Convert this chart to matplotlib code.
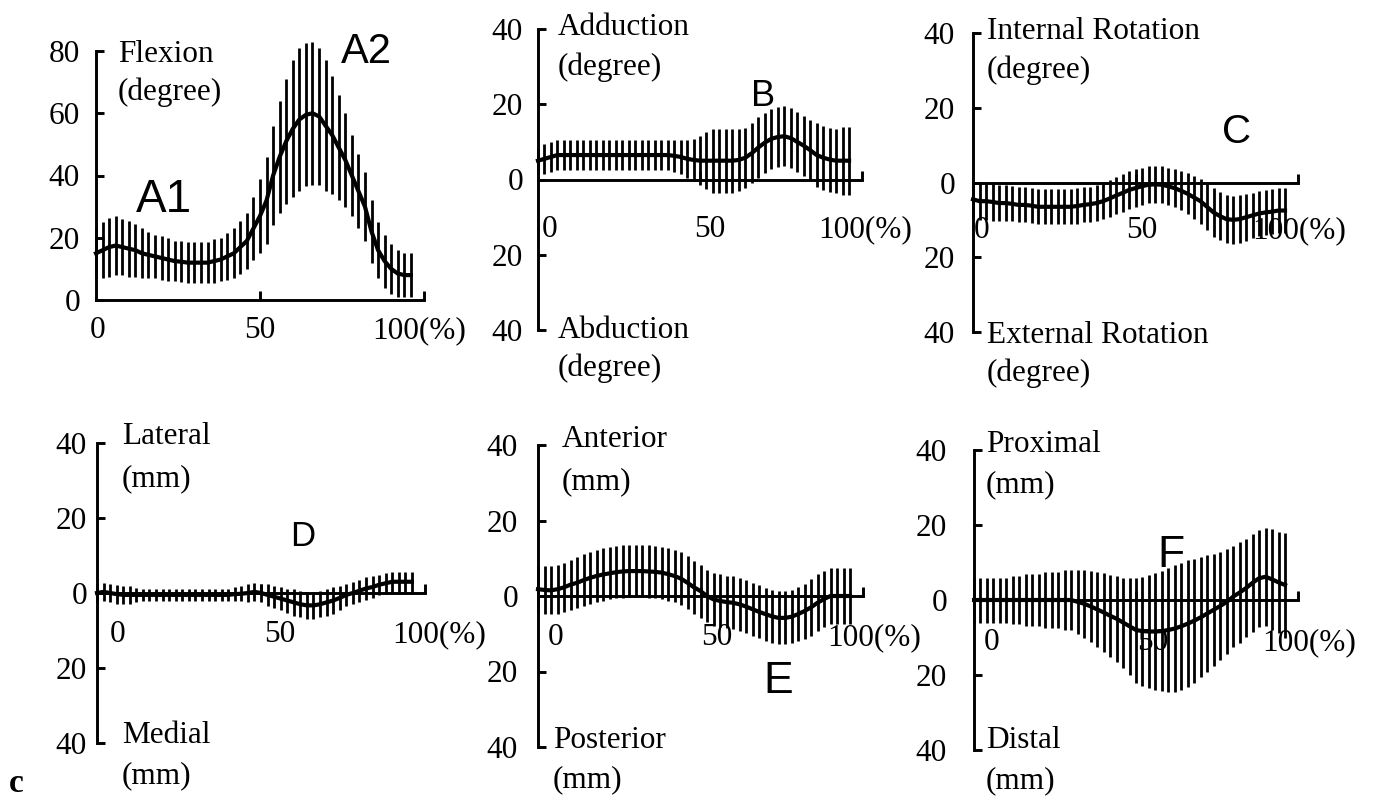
import numpy as np
import matplotlib
matplotlib.use("Agg")
import matplotlib.pyplot as plt

W, H = 1379, 801

# percent of the cycle, one bar every 2 %
pct = np.arange(0, 98, 2)

flex_mean = [15, 16, 17, 17.5, 17, 16.5, 16, 15, 14.5, 14,
             13.5, 13, 12.5, 12.3, 12, 12, 12, 12, 12.5, 13,
             14, 15, 17, 19, 23, 27, 32, 40, 46, 51,
             55, 58, 59.5, 60, 59, 56, 53, 49, 45, 40,
             35, 30, 22, 16, 12.5, 10, 8.5, 8, 8]
flex_sd = [8, 9, 9.5, 9.5, 9, 9, 8.5, 8, 7.5, 7,
           7, 7, 6.5, 6.5, 6.5, 6.5, 6.5, 6.5, 7, 7,
           7.5, 8, 8.5, 9, 10, 12, 14, 16, 18, 20,
           22, 23, 23, 23, 22, 21, 19, 17, 15, 13,
           12, 11, 10, 9, 8.5, 8, 7.5, 7, 7]

add_mean = [5, 5.5, 6, 6.5, 6.5, 6.5, 6.5, 6.5, 6.5, 6.5,
            6.5, 6.5, 6.5, 6.5, 6.5, 6.5, 6.5, 6.5, 6.5, 6.5,
            6.5, 6.3, 6, 5.5, 5.2, 5, 5, 5, 5, 5,
            5, 5.2, 5.8, 7, 8.5, 9.8, 10.8, 11.3, 11.5, 11,
            10, 9, 7.8, 6.5, 5.8, 5.3, 5, 5, 5]
add_sd = [3.5, 4, 4, 4, 4, 4, 4, 4, 4, 4,
          4, 4, 4, 4, 4, 4, 4, 4, 4, 4,
          4, 4.2, 4.5, 5, 5.5, 6.5, 7.5, 8.5, 8.5, 8.5,
          8.5, 8.3, 8, 8, 8, 8, 8, 8, 8, 8,
          8, 8, 8, 8.5, 8.5, 8.5, 8.5, 9, 9]

rot_mean = [-4.5, -5, -5, -5.2, -5.5, -5.5, -5.7, -6, -6, -6.2,
            -6.5, -6.5, -6.5, -6.5, -6.5, -6.5, -6.3, -6, -5.8, -5.5,
            -5, -4.3, -3.5, -2.8, -2, -1.5, -1, -0.6, -0.5, -0.6,
            -1, -1.5, -2.2, -3, -4, -5, -6.5, -8, -9, -9.8,
            -10, -9.8, -9.3, -8.8, -8.3, -8, -7.8, -7.5, -7.5]
rot_sd = [5, 5, 5, 5, 4.8, 4.8, 4.7, 4.7, 4.7, 4.7,
          4.7, 4.7, 4.7, 4.7, 4.7, 4.7, 4.7, 4.7, 4.7, 4.7,
          4.8, 5, 5, 5, 5, 5, 5, 5, 5, 5,
          5, 5, 5.2, 5.5, 5.8, 6, 6.3, 6.5, 6.5, 6.5,
          6.5, 6.5, 6.3, 6, 6, 6, 6, 6, 6]

lat_mean = [0, 0.3, 0, -0.3, -0.5, -0.5, -0.5, -0.5, -0.5, -0.5,
            -0.5, -0.5, -0.5, -0.5, -0.5, -0.5, -0.5, -0.5, -0.5, -0.5,
            -0.5, -0.3, -0.2, 0, 0.3, 0, -0.5, -1, -1.5, -2,
            -2.5, -3, -3.3, -3.3, -3, -2.5, -2, -1.3, -0.5, 0,
            0.6, 1.2, 1.6, 2.2, 2.6, 3, 3, 3, 3]
lat_sd = [2.5, 2.5, 2.5, 2.5, 2.5, 2.3, 1.8, 1.5, 1.5, 1.5,
          1.5, 1.5, 1.5, 1.5, 1.5, 1.5, 1.5, 1.5, 1.5, 1.5,
          1.6, 1.8, 2, 2.5, 2.5, 2.5, 3, 3, 3, 3.2,
          3.5, 3.5, 3.5, 3.5, 3.5, 3.5, 3.5, 3.2, 3, 3,
          3, 3, 3, 2.7, 2.7, 2.7, 2.7, 2.7, 2.7]

ant_mean = [1.8, 1.6, 1.5, 1.8, 2.3, 3, 3.5, 4.2, 4.8, 5.3,
            5.7, 6, 6.3, 6.5, 6.6, 6.6, 6.6, 6.5, 6.4, 6.2,
            5.8, 5.3, 4.6, 3.5, 2.3, 1.3, 0, -0.9, -1.3, -1.6,
            -1.8, -2.2, -2.8, -3.5, -4.2, -4.8, -5.4, -5.8, -5.8, -5.5,
            -4.8, -4, -3, -1.8, -0.8, 0, 0, 0, 0]
ant_sd = [6.4, 6.4, 6.4, 6.5, 6.5, 6.6, 6.7, 6.8, 6.8, 6.9,
          6.9, 6.9, 6.9, 6.9, 6.9, 6.9, 6.9, 6.9, 6.9, 6.9,
          7, 7, 7, 7, 7, 7, 7, 7, 7, 7,
          7, 7, 7, 7, 7, 7, 7, 7, 7, 7,
          7.2, 7.3, 7.5, 7.5, 7.5, 7.5, 7.5, 7.5, 7.5]

prox_mean = [0, 0, 0, 0, 0, 0, 0, 0, 0, 0,
             0, 0, 0, 0, 0, 0, -0.5, -1, -1.7, -2.5,
             -3.3, -4.2, -5, -6, -7, -8, -8.3, -8.4, -8.4, -8.3,
             -8, -7.6, -7, -6.3, -5.5, -4.6, -3.6, -2.6, -1.6, -0.5,
             0.9, 2, 3.2, 4.6, 5.8, 6.2, 5.5, 4.7, 4]
prox_sd = [6, 6, 6, 6, 6, 6, 6.5, 6.5, 7, 7,
           7, 7.5, 7.5, 7.5, 8, 8, 8.5, 9, 9.5, 10,
           10.5, 11, 11.5, 12, 13, 14, 14.5, 15, 15.5, 16,
           16.5, 17, 17, 17, 16.5, 16, 15.5, 15, 14.5, 14,
           13.5, 13.5, 13, 13, 13, 13, 13.5, 13.5, 14]

sym_ticks = [-40, -20, 0, 20, 40]
sym_labels = ["40", "20", "0", "20", "40"]

SERIF = "Liberation Serif"
SANS = "Liberation Sans"
FS = 22.5


def fp(x, y):
    # pixel position -> figure fraction
    return x / W, 1 - y / H


fig = plt.figure(figsize=(W / 100, H / 100), dpi=100)

# box = left, top, right, bottom in pixels
panels = [
    dict(box=(96, 51, 424, 300), mean=flex_mean, sd=flex_sd, ylim=(0, 80),
         yt=[0, 20, 40, 60, 80], yl=["0", "20", "40", "60", "80"], pad=11.5,
         xl=[(98, "0", "center"), (260, "50", "center"), (372, "100(%)", "left")], xly=338,
         lab=[(118, 62, "Flexion"), (118, 100, "(degree)")],
         let=[(164, 212, "A1", 33), (366, 63, "A2", 30)]),
    dict(box=(538, 29, 862, 330), mean=add_mean, sd=add_sd, ylim=(-40, 40),
         yt=sym_ticks, yl=sym_labels, pad=10.8,
         xl=[(550, "0", "center"), (710, "50", "center"), (818, "100(%)", "left")], xly=237,
         lab=[(558, 35, "Adduction"), (558, 75, "(degree)"),
              (558, 338, "Abduction"), (558, 376, "(degree)")],
         let=[(763, 106, "B", 26)]),
    dict(box=(973, 33, 1298, 332), mean=rot_mean, sd=rot_sd, ylim=(-40, 40),
         yt=sym_ticks, yl=sym_labels, pad=13,
         xl=[(982, "0", "center"), (1142, "50", "center"), (1252, "100(%)", "left")], xly=238,
         lab=[(987, 39, "Internal Rotation"), (987, 78, "(degree)"),
              (987, 343, "External Rotation"), (987, 381, "(degree)")],
         let=[(1237, 143, "C", 29)]),
    dict(box=(97, 443, 425, 743), mean=lat_mean, sd=lat_sd, ylim=(-40, 40),
         yt=sym_ticks, yl=sym_labels, pad=7.2,
         xl=[(118, "0", "center"), (280, "50", "center"), (392, "100(%)", "left")], xly=642,
         lab=[(122, 444, "Lateral"), (122, 486, "(mm)"),
              (122, 743, "Medial"), (122, 783, "(mm)")],
         let=[(303, 546, "D", 25)]),
    dict(box=(538, 445, 863, 747), mean=ant_mean, sd=ant_sd, ylim=(-40, 40),
         yt=sym_ticks, yl=sym_labels, pad=14.4,
         xl=[(556, "0", "center"), (717, "50", "center"), (827, "100(%)", "left")], xly=645,
         lab=[(562, 447, "Anterior"), (562, 489, "(mm)"),
              (553, 748, "Posterior"), (553, 787, "(mm)")],
         let=[(778, 693, "E", 32)]),
    dict(box=(974, 450, 1298, 750), mean=prox_mean, sd=prox_sd, ylim=(-40, 40),
         yt=sym_ticks, yl=sym_labels, pad=19.4,
         xl=[(992, "0", "center"), (1153, "50", "center"), (1262, "100(%)", "left")], xly=650,
         lab=[(986, 452, "Proximal"), (986, 492, "(mm)"),
              (986, 748, "Distal"), (986, 788, "(mm)")],
         let=[(1171, 567, "F", 32)]),
]

for p in panels:
    l, t, r, b = p["box"]
    ax = fig.add_axes([l / W, 1 - b / H, (r - l) / W, (b - t) / H])
    ax.set_xlim(0, 100)
    ax.set_ylim(*p["ylim"])
    ax.patch.set_alpha(0)

    ax.errorbar(pct, p["mean"], yerr=p["sd"], fmt="-", color="black", lw=3.0,
                elinewidth=2.0, capsize=0, clip_on=False, zorder=3)

    for s in ["top", "right"]:
        ax.spines[s].set_visible(False)
    ax.spines["bottom"].set_position(("data", 0))
    for s in ["left", "bottom"]:
        ax.spines[s].set_linewidth(2.1)

    ax.set_xticks([50, 100])
    ax.set_xticklabels([])
    ax.tick_params(axis="x", direction="in", length=6.5, width=2.1)
    ax.set_yticks(p["yt"])
    ax.set_yticklabels(p["yl"], fontfamily=SERIF, fontsize=FS)
    ax.tick_params(axis="y", direction="in", length=6, width=2.1, pad=p["pad"])

    for x, s, ha in p["xl"]:
        ax.text(*fp(x, p["xly"]), s, transform=fig.transFigure, ha=ha, va="baseline",
                family=SERIF, fontsize=FS, zorder=1, clip_on=False)
    for x, y, s in p["lab"]:
        ax.text(*fp(x, y), s, transform=fig.transFigure, ha="left", va="baseline",
                family=SERIF, fontsize=FS, zorder=1, clip_on=False)
    for x, y, s, size in p["let"]:
        ax.text(*fp(x, y), s, transform=fig.transFigure, ha="center", va="baseline",
                family=SANS, fontsize=size, zorder=4, clip_on=False)

fig.text(*fp(9, 792), "c", family=SERIF, fontweight="bold", fontsize=24, va="baseline")

fig.savefig("out.png", dpi=100)
